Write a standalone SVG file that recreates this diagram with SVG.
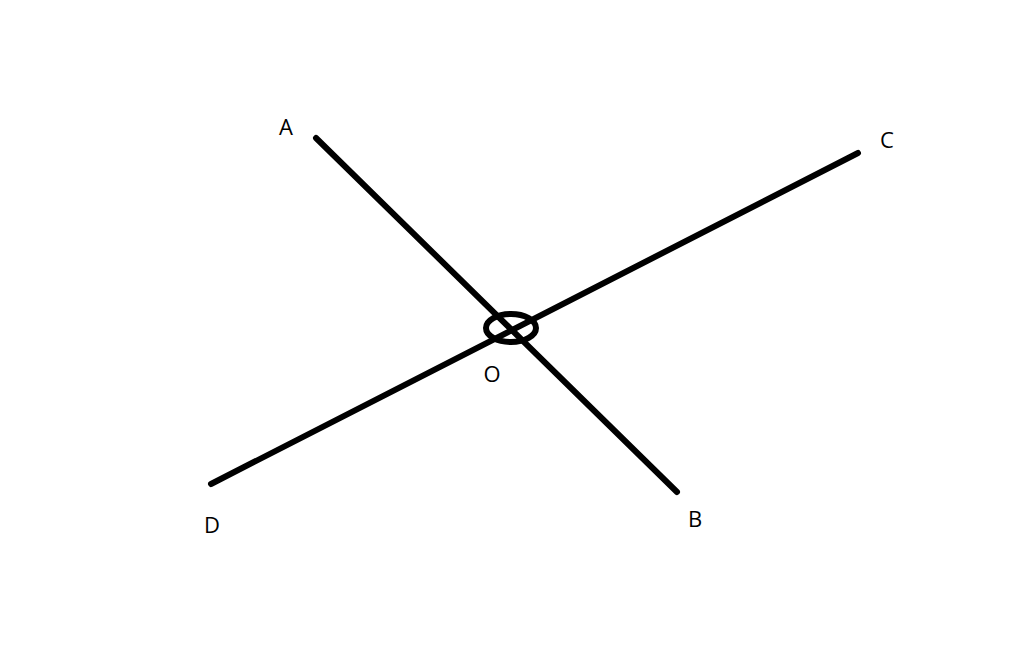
<svg xmlns="http://www.w3.org/2000/svg" width="1024" height="654" viewBox="0 0 1024 654">
<style>
.ln{stroke:#000;stroke-width:6;stroke-linecap:round;fill:none}
.lbl{font-family:"Open Sans","Liberation Sans",sans-serif;font-size:22px;fill:#000;text-anchor:middle}
</style>
<rect width="1024" height="654" fill="#fff"/>
<g id="connectors">
<line class="ln" x1="316" y1="138" x2="677" y2="492"/>
<line class="ln" x1="858" y1="153" x2="211" y2="484"/>
<ellipse class="ln" cx="511" cy="328" rx="25" ry="14"/>
</g>
<g id="A"><text class="lbl" x="286" y="135">A</text></g>
<g id="B"><text class="lbl" x="695" y="527">B</text></g>
<g id="C"><text class="lbl" x="887" y="148">C</text></g>
<g id="D"><text class="lbl" x="212" y="533">D</text></g>
<g id="O"><text class="lbl" x="492" y="382">O</text></g>
</svg>
